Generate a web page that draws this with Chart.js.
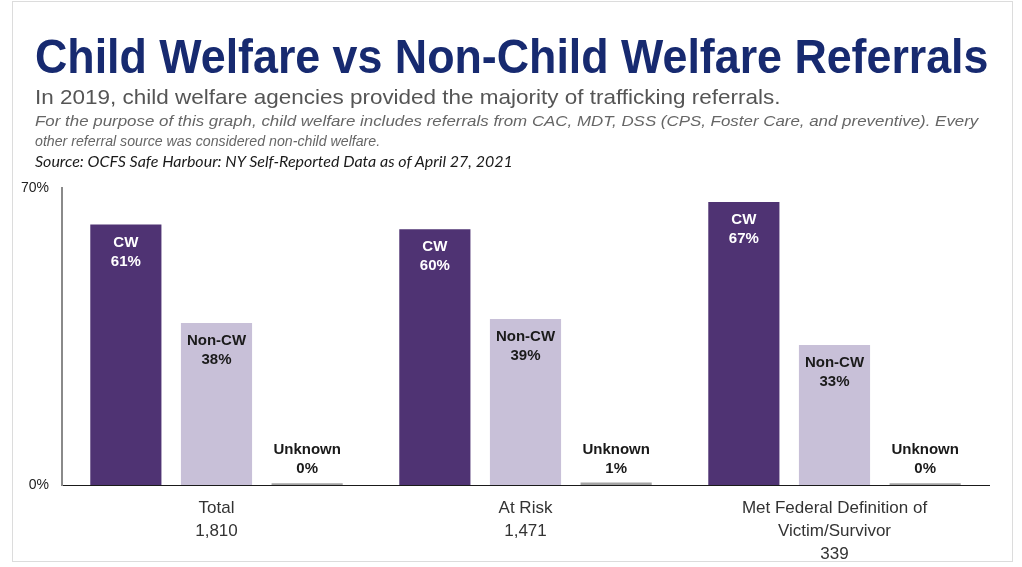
<!DOCTYPE html>
<html>
<head>
<meta charset="utf-8">
<script src="https://cdn.jsdelivr.net/npm/chart.js@4.4.1/dist/chart.umd.min.js"></script>
<style>
  html, body { margin: 0; padding: 0; background: #fff; }
  body { width: 1022px; height: 567px; position: relative; overflow: hidden; font-family: Arial, 'Liberation Sans', sans-serif; }
  .frame { position: absolute; left: 12px; top: 1px; width: 999px; height: 559px; border: 1px solid #dcdcdc; pointer-events: none; }
  .line { position: absolute; left: 35px; white-space: nowrap; transform-origin: left top; }
  #title { top: 29px; font-size: 48px; font-weight: bold; color: #172a70; }
  #sub { top: 85px; font-size: 21px; color: #555; }
  #note1 { top: 112px; font-size: 15px; font-style: italic; color: #666; }
  #note2 { top: 132px; font-size: 15px; font-style: italic; color: #666; }
  #source { top: 152px; font-family: Lato, sans-serif; font-size: 15px; font-style: italic; color: #1a1a1a; }
  .chart-box { position: absolute; left: 0; top: 0; width: 1022px; height: 560px; }
</style>
</head>
<body>
<div class="chart-box"><canvas id="refChart"></canvas></div>
<div class="line" id="title" data-w="953">Child Welfare vs Non-Child Welfare Referrals</div>
<div class="line" id="sub" data-w="745">In 2019, child welfare agencies provided the majority of trafficking referrals.</div>
<div class="line" id="note1" data-w="943">For the purpose of this graph, child welfare includes referrals from CAC, MDT, DSS (CPS, Foster Care, and preventive). Every</div>
<div class="line" id="note2" data-w="345">other referral source was considered non-child welfare.</div>
<div class="line" id="source" data-w="478">Source: OCFS Safe Harbour: NY Self-Reported Data as of April 27, 2021</div>
<div class="frame"></div>
<script>
const categories = [['Total', '1,810'], ['At Risk', '1,471'], ['Met Federal Definition of', 'Victim/Survivor', '339']];
// bar heights; labels show them rounded
const cwValues = [61.4, 60.3, 66.7];
const nonCwValues = [38.2, 39.1, 33.0];
const unknownValues = [0.4, 0.6, 0.4];
const yTicks = [0, 70];

Chart.defaults.font.family = 'Arial, "Liberation Sans", sans-serif';

// squeeze header lines to the widths seen in the picture
document.querySelectorAll('.line').forEach(el => {
  const w = +el.dataset.w;
  el.style.transform = 'scaleX(' + (w / el.scrollWidth) + ')';
});

const barLabels = {
  id: 'barLabels',
  afterDatasetsDraw(chart) {
    const ctx = chart.ctx;
    ctx.save();
    ctx.font = 'bold 15px Arial, "Liberation Sans", sans-serif';
    ctx.textAlign = 'center';
    ctx.textBaseline = 'middle';
    chart.data.datasets.forEach((ds, di) => {
      const meta = chart.getDatasetMeta(di);
      meta.data.forEach((bar, i) => {
        const pct = Math.round(ds.data[i]) + '%';
        ctx.fillStyle = ds.labelColor;
        if (ds.labelPos === 'inside') {
          ctx.fillText(ds.label, bar.x, bar.y + 18);
          ctx.fillText(pct, bar.x, bar.y + 37);
        } else {
          ctx.fillText(ds.label, bar.x, bar.y - 33);
          ctx.fillText(pct, bar.x, bar.y - 14);
        }
      });
    });
    ctx.restore();
  }
};

new Chart(document.getElementById('refChart'), {
  type: 'bar',
  data: {
    labels: categories,
    datasets: [{
      label: 'CW',
      data: cwValues,
      backgroundColor: '#4f3373',
      labelPos: 'inside',
      labelColor: '#ffffff',
    }, {
      label: 'Non-CW',
      data: nonCwValues,
      backgroundColor: '#c8c0d8',
      labelPos: 'inside',
      labelColor: '#1a1a1a',
    }, {
      label: 'Unknown',
      data: unknownValues,
      backgroundColor: '#a3a3a3',
      labelPos: 'above',
      labelColor: '#1a1a1a',
    }]
  },
  options: {
    responsive: true,
    maintainAspectRatio: false,
    animation: false,
    categoryPercentage: 0.88,
    barPercentage: 0.785,
    layout: { padding: { top: 188, right: 33, left: 0, bottom: 0 } },
    plugins: {
      legend: { display: false },
      tooltip: { enabled: false }
    },
    scales: {
      x: {
        grid: { display: false, drawTicks: false },
        border: { color: '#1a1a1a', width: 1 },
        ticks: {
          color: '#333',
          padding: 12,
          maxRotation: 0,
          autoSkip: false,
          font: { size: 17, lineHeight: 1.35 }
        },
        afterFit(scale) { scale.height = 75; }
      },
      y: {
        min: 0,
        max: 70,
        afterBuildTicks(scale) { scale.ticks = yTicks.map(v => ({ value: v })); },
        grid: { display: false, drawTicks: false },
        border: { color: '#8a8a8a', width: 2 },
        ticks: {
          color: '#222',
          padding: 13,
          font: { size: 14 },
          callback: v => v + '%'
        },
        afterFit(scale) { scale.width = 62; }
      }
    }
  },
  plugins: [barLabels]
});
</script>
</body>
</html>
